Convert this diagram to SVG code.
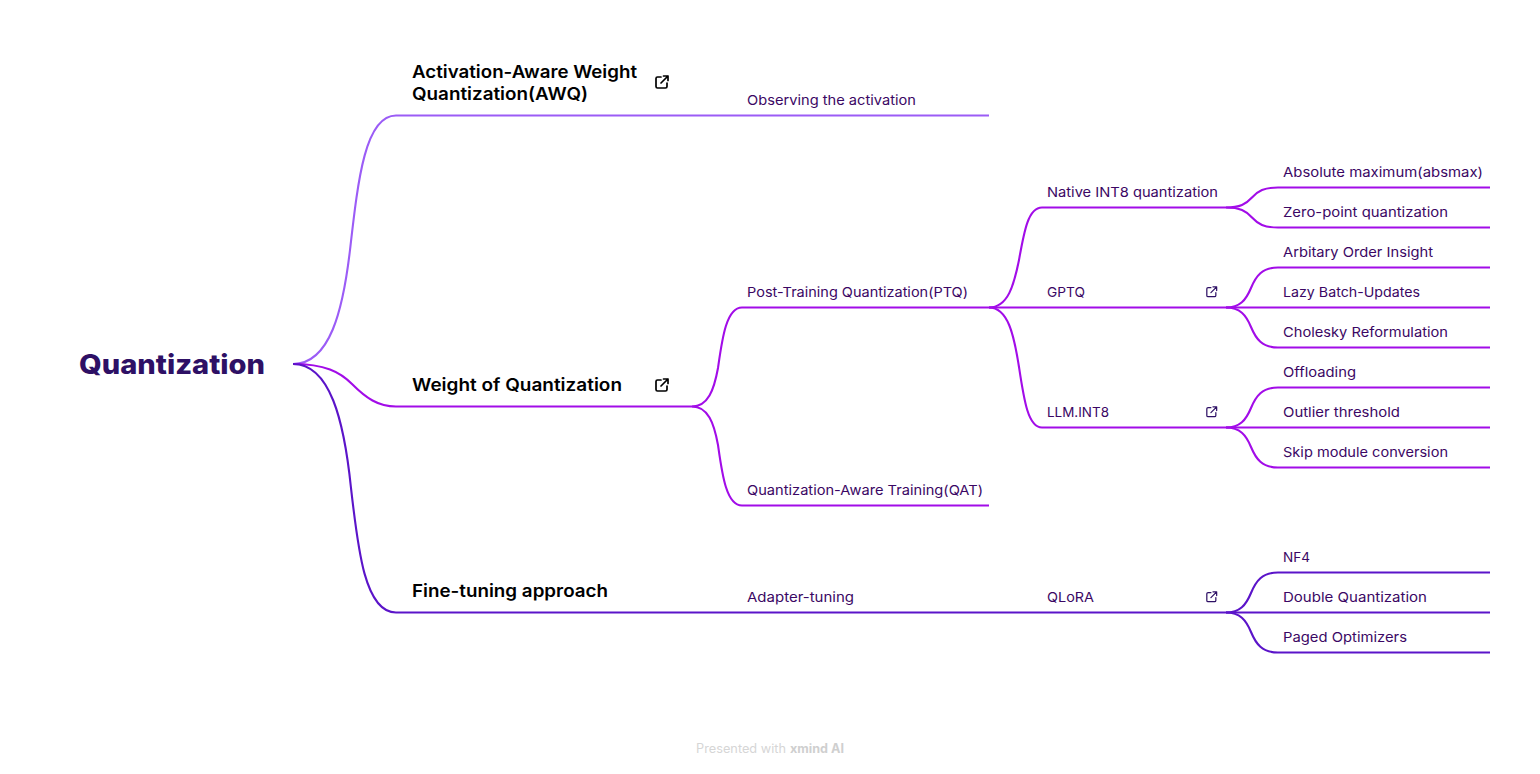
<svg xmlns="http://www.w3.org/2000/svg" width="1540" height="774" viewBox="0 0 1540 774">
<style>
text{font-family:Inter,"Liberation Sans",sans-serif}
.root{font-size:27px;font-weight:800;fill:#2e1065}
.h{font-size:17.500px;font-weight:600;fill:#000}
.t{font-size:13.500px;font-weight:400;fill:#3b0764}
.c{fill:none;stroke-width:2.100}
.a{stroke:#9b5cf6}.b{stroke:#a20ce8}.d{stroke:#5b14c9}
.i{fill:none;stroke-linecap:round;stroke-linejoin:round}
.ib{stroke:#000;stroke-width:1.700}.is{stroke:#2e1065;stroke-width:1.500}
</style>
<defs>
<g id="ext"><path d="M6 2H2.500A1.500 1.500 0 0 0 1 3.500V11.500A1.500 1.500 0 0 0 2.500 13H10.500A1.500 1.500 0 0 0 12 11.500V8"/><path d="M6 8L13 1M8.500 1H13V5.500"/></g>
</defs>
<g id="connectors">
<path class="c a" d="M293 364C330 364 343 310 350 250C358 180 365 115.500 396 115.500H989"/>
<path class="c b" d="M293 364C325 364 340 372 352 384C366 398 378 406.500 396 406.500H692"/>
<path class="c d" d="M293 364C330 364 344 420 351 488C358 550 365 612.500 396 612.500H692"/>
<path class="c b" d="M692 406.500C708 406.500 714 390 718 368C722 340 726 307.500 742 307.500H1226"/>
<path class="c b" d="M692 406.500C708 406.500 714 423 718 445C722 473 726 505.500 742 505.500H989"/>
<path class="c b" d="M989 307.500C1008 307.500 1014 285 1019 260C1024 232 1028 207.500 1042 207.500H1226"/>
<path class="c b" d="M989 307.500C1008 307.500 1014 335 1019 367C1024 400 1028 427.500 1042 427.500H1226"/>
<path class="c b" d="M1226 207.500C1240 207.500 1246 204 1252 197.500C1258 191 1264 187.500 1278 187.500H1490"/>
<path class="c b" d="M1226 207.500C1240 207.500 1246 211 1252 217.500C1258 224 1264 227.500 1278 227.500H1490"/>
<path class="c b" d="M1226 307.500C1240 307.500 1246 300 1251 288C1256 276 1262 267.500 1278 267.500H1490"/>
<path class="c b" d="M1226 307.500H1490"/>
<path class="c b" d="M1226 307.500C1240 307.500 1246 315 1251 327C1256 339 1262 347.500 1278 347.500H1490"/>
<path class="c b" d="M1226 427.500C1240 427.500 1246 420 1251 408C1256 396 1262 387.500 1278 387.500H1490"/>
<path class="c b" d="M1226 427.500H1490"/>
<path class="c b" d="M1226 427.500C1240 427.500 1246 435 1251 447C1256 459 1262 467.500 1278 467.500H1490"/>
<path class="c d" d="M692 612.500H1226"/>
<path class="c d" d="M1226 612.500C1240 612.500 1246 605 1251 593C1256 581 1262 572.500 1278 572.500H1490"/>
<path class="c d" d="M1226 612.500H1490"/>
<path class="c d" d="M1226 612.500C1240 612.500 1246 620 1251 632C1256 644 1262 652.500 1278 652.500H1490"/>
</g>
<g id="n-root"><text class="root" x="79" y="374" textLength="186" lengthAdjust="spacingAndGlyphs">Quantization</text></g>
<g id="n-awq"><text class="h" x="412" y="78" textLength="225" lengthAdjust="spacingAndGlyphs">Activation-Aware Weight</text><text class="h" x="412" y="100" textLength="176" lengthAdjust="spacingAndGlyphs">Quantization(AWQ)</text><use href="#ext" class="i ib" x="655" y="75"/></g>
<g id="n-weight"><text class="h" x="412" y="391" textLength="210" lengthAdjust="spacingAndGlyphs">Weight of Quantization</text><use href="#ext" class="i ib" x="655" y="378"/></g>
<g id="n-fine"><text class="h" x="412" y="597" textLength="196" lengthAdjust="spacingAndGlyphs">Fine-tuning approach</text></g>
<g id="n-observe"><text class="t" x="747" y="105" textLength="169" lengthAdjust="spacingAndGlyphs">Observing the activation</text></g>
<g id="n-ptq"><text class="t" x="747" y="297" textLength="221" lengthAdjust="spacingAndGlyphs">Post-Training Quantization(PTQ)</text></g>
<g id="n-qat"><text class="t" x="747" y="495" textLength="236" lengthAdjust="spacingAndGlyphs">Quantization-Aware Training(QAT)</text></g>
<g id="n-adapter"><text class="t" x="747" y="602" textLength="107" lengthAdjust="spacingAndGlyphs">Adapter-tuning</text></g>
<g id="n-native"><text class="t" x="1047" y="197" textLength="171" lengthAdjust="spacingAndGlyphs">Native INT8 quantization</text></g>
<g id="n-gptq"><text class="t" x="1047" y="297" textLength="38" lengthAdjust="spacingAndGlyphs">GPTQ</text><use href="#ext" class="i is" transform="translate(1206 286) scale(.82)"/></g>
<g id="n-llm"><text class="t" x="1047" y="417" textLength="62" lengthAdjust="spacingAndGlyphs">LLM.INT8</text><use href="#ext" class="i is" transform="translate(1206 406) scale(.82)"/></g>
<g id="n-qlora"><text class="t" x="1047" y="602" textLength="47" lengthAdjust="spacingAndGlyphs">QLoRA</text><use href="#ext" class="i is" transform="translate(1206 591) scale(.82)"/></g>
<g id="n-abs"><text class="t" x="1283" y="177" textLength="200" lengthAdjust="spacingAndGlyphs">Absolute maximum(absmax)</text></g>
<g id="n-zero"><text class="t" x="1283" y="217" textLength="165" lengthAdjust="spacingAndGlyphs">Zero-point quantization</text></g>
<g id="n-arb"><text class="t" x="1283" y="257" textLength="150" lengthAdjust="spacingAndGlyphs">Arbitary Order Insight</text></g>
<g id="n-lazy"><text class="t" x="1283" y="297" textLength="137" lengthAdjust="spacingAndGlyphs">Lazy Batch-Updates</text></g>
<g id="n-chol"><text class="t" x="1283" y="337" textLength="165" lengthAdjust="spacingAndGlyphs">Cholesky Reformulation</text></g>
<g id="n-off"><text class="t" x="1283" y="377" textLength="73" lengthAdjust="spacingAndGlyphs">Offloading</text></g>
<g id="n-out"><text class="t" x="1283" y="417" textLength="117" lengthAdjust="spacingAndGlyphs">Outlier threshold</text></g>
<g id="n-skip"><text class="t" x="1283" y="457" textLength="165" lengthAdjust="spacingAndGlyphs">Skip module conversion</text></g>
<g id="n-nf4"><text class="t" x="1283" y="562" textLength="27" lengthAdjust="spacingAndGlyphs">NF4</text></g>
<g id="n-double"><text class="t" x="1283" y="602" textLength="144" lengthAdjust="spacingAndGlyphs">Double Quantization</text></g>
<g id="n-paged"><text class="t" x="1283" y="642" textLength="124" lengthAdjust="spacingAndGlyphs">Paged Optimizers</text></g>
<g id="footer"><text x="696" y="753" font-size="12.500" fill="#d6d6d6" textLength="90" lengthAdjust="spacingAndGlyphs">Presented with</text><text x="790" y="753" font-size="12.500" font-weight="700" fill="#cfcfcf" textLength="54" lengthAdjust="spacingAndGlyphs">xmind AI</text></g>
</svg>
